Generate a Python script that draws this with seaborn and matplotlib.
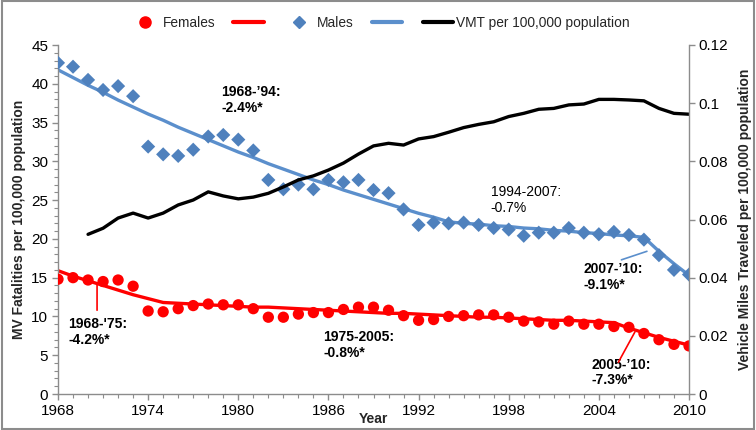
import numpy as np
import pandas as pd
import matplotlib
matplotlib.use("Agg")
import matplotlib.pyplot as plt
import seaborn as sns
from matplotlib.lines import Line2D
from matplotlib.ticker import MultipleLocator, FuncFormatter
from matplotlib.patches import Rectangle

# ---------------- data ----------------
years = list(range(1968, 2011))
females = [14.8, 15.0, 14.7, 14.5, 14.7, 13.9, 10.7, 10.6, 11.0, 11.4,
           11.6, 11.5, 11.5, 11.0, 9.9, 9.9, 10.3, 10.5, 10.5, 10.9,
           11.2, 11.2, 10.8, 10.1, 9.5, 9.6, 10.0, 10.1, 10.2, 10.2,
           9.9, 9.4, 9.3, 9.0, 9.4, 9.0, 9.0, 8.7, 8.6, 7.8,
           7.0, 6.4, 6.2]
males = [42.7, 42.2, 40.5, 39.2, 39.7, 38.4, 31.9, 30.9, 30.7, 31.5,
         33.2, 33.4, 32.8, 31.4, 27.6, 26.4, 27.0, 26.4, 27.6, 27.3,
         27.6, 26.3, 25.9, 23.8, 21.8, 22.1, 22.0, 22.1, 21.8, 21.4,
         21.2, 20.4, 20.8, 20.8, 21.4, 20.8, 20.6, 20.9, 20.5, 19.9,
         17.9, 16.0, 15.4]
female_trend = [15.9, 15.2, 14.6, 14.0, 13.4, 12.8, 12.3, 11.8, 11.7, 11.6,
                11.5, 11.4, 11.3, 11.2, 11.2, 11.1, 11.0, 10.9, 10.8, 10.7,
                10.6, 10.5, 10.4, 10.4, 10.3, 10.2, 10.1, 10.0, 9.9, 9.9,
                9.8, 9.7, 9.6, 9.5, 9.5, 9.4, 9.3, 9.2, 8.5, 7.9,
                7.3, 6.8, 6.3]
male_trend = [41.8, 40.8, 39.8, 38.9, 37.9, 37.0, 36.1, 35.3, 34.4, 33.6,
              32.8, 32.0, 31.2, 30.5, 29.7, 29.0, 28.3, 27.6, 27.0, 26.3,
              25.7, 25.1, 24.5, 23.9, 23.3, 22.8, 22.2, 22.0, 21.9, 21.7,
              21.6, 21.4, 21.3, 21.1, 21.0, 20.8, 20.7, 20.5, 20.4, 20.2,
              18.4, 16.8, 15.3]
vmt_years = list(range(1970, 2011))
vmt = [0.0549, 0.0570, 0.0605, 0.0622, 0.0605, 0.0622, 0.0650, 0.0667, 0.0695, 0.0681,
       0.0671, 0.0677, 0.0690, 0.0712, 0.0736, 0.0750, 0.0770, 0.0794, 0.0825, 0.0853,
       0.0862, 0.0856, 0.0877, 0.0885, 0.0900, 0.0916, 0.0927, 0.0936, 0.0954, 0.0965,
       0.0979, 0.0982, 0.0994, 0.0997, 0.1013, 0.1013, 0.1011, 0.1008, 0.0982, 0.0965,
       0.0962]
x_ticks = [1968, 1974, 1980, 1986, 1992, 1998, 2004, 2010]

df = pd.DataFrame({"year": years, "females": females, "males": males,
                   "ftrend": female_trend, "mtrend": male_trend})
dv = pd.DataFrame({"year": vmt_years, "vmt": vmt})

# ---------------- style ----------------
sns.set_theme(style="white")
plt.rcParams["font.family"] = ["Liberation Sans", "DejaVu Sans"]
plt.rcParams["axes.edgecolor"] = "#8c8c8c"

RED = "#ff0000"
BLUE = "#4f81bd"
BLUE_LINE = "#5b8fcc"
GRAY = "#8c8c8c"

fig = plt.figure(figsize=(7.56, 4.30), dpi=100)
ax = fig.add_axes([58 / 756, 1 - 394 / 430, (689 - 58) / 756, (394 - 45) / 430])
ax2 = ax.twinx()

# points
sns.scatterplot(data=df, x="year", y="males", ax=ax, marker="D", s=52,
                color=BLUE, edgecolor="none", linewidth=0, zorder=3, legend=False)
sns.scatterplot(data=df, x="year", y="females", ax=ax, marker="o", s=66,
                color=RED, edgecolor="none", linewidth=0, zorder=3, legend=False)
# trend lines
sns.lineplot(data=df, x="year", y="mtrend", ax=ax, color=BLUE_LINE, linewidth=2.4,
             zorder=2, legend=False)
sns.lineplot(data=df, x="year", y="ftrend", ax=ax, color=RED, linewidth=2.4,
             zorder=2, legend=False)
# VMT
sns.lineplot(data=dv, x="year", y="vmt", ax=ax2, color="black", linewidth=2.4,
             legend=False)

# axes
ax.set_xlim(1968, 2010)
ax.set_ylim(0, 45)
ax2.set_ylim(0, 0.12)
ax.set_xticks(x_ticks)
ax.xaxis.set_minor_locator(MultipleLocator(1))
ax.yaxis.set_major_locator(MultipleLocator(5))
ax.yaxis.set_minor_locator(MultipleLocator(1))
ax2.yaxis.set_major_locator(MultipleLocator(0.02))
ax2.yaxis.set_major_formatter(FuncFormatter(lambda v, p: f"{v:g}"))

for a in (ax, ax2):
    a.spines["top"].set_visible(False)
    for s in a.spines.values():
        s.set_color(GRAY)
        s.set_linewidth(1.0)
ax.spines["right"].set_visible(False)
ax2.spines["left"].set_visible(False)
ax2.spines["bottom"].set_visible(False)

ax.tick_params(axis="both", which="major", direction="out", length=4, width=1,
               color=GRAY, labelsize=11, pad=3, labelcolor="black")
ax.tick_params(axis="both", which="minor", direction="out", length=3, width=0.8,
               color=GRAY)
ax.tick_params(axis="x", which="both", bottom=True, top=False)
ax.tick_params(axis="y", which="both", left=True, right=False)
ax2.tick_params(axis="y", which="major", direction="out", length=4, width=1,
                color=GRAY, labelsize=11, pad=3, right=True, labelcolor="black")

ax.set_xlabel("Year", fontsize=10, fontweight="bold")
ax.xaxis.set_label_coords(0.50, -0.053)
ax.set_ylabel("MV Fatalities per 100,000 population", fontsize=10, fontweight="bold",
              labelpad=4)
ax2.set_ylabel("Vehicle Miles Traveled per 100,000 population", fontsize=10,
               fontweight="bold", labelpad=7, rotation=90)

ax.grid(False)
ax2.grid(False)

# annotations
bold = dict(fontsize=10, fontweight="bold", color="black", va="top", ha="left",
            linespacing=1.15)
ax.text(1978.85, 39.8, "1968-\u201994:\n-2.4%*", **bold)
ax.text(1968.7, 9.9, "1968-'75:\n-4.2%*", **bold)
ax.text(1985.64, 8.2, "1975-2005:\n-0.8%*", **bold)
ax.text(1996.8, 26.9, "1994-2007:\n-0.7%", fontsize=10, color="black",
        va="top", ha="left", linespacing=1.15)
ax.text(2002.95, 17.0, "2007-\u201910:\n-9.1%*", **bold)
ax.text(2003.5, 4.7, "2005-\u201910:\n-7.3%*", **bold)

# leader lines
lead = dict(arrowstyle="-", lw=1.2, shrinkA=0, shrinkB=0)
ax.annotate("", xy=(1970.6, 14.05), xytext=(1970.6, 10.8),
            arrowprops=dict(color=RED, **lead))
ax.annotate("", xy=(2007.2, 18.4), xytext=(2005.5, 17.3),
            arrowprops=dict(color=BLUE_LINE, **lead))
ax.annotate("", xy=(2006.4, 8.0), xytext=(2005.3, 4.1),
            arrowprops=dict(color=RED, **lead))

# legend
handles = [
    Line2D([], [], marker="o", linestyle="none", color=RED, markersize=8),
    Line2D([], [], color=RED, linewidth=3),
    Line2D([], [], marker="D", linestyle="none", color=BLUE, markersize=6.5),
    Line2D([], [], color=BLUE_LINE, linewidth=3),
    Line2D([], [], color="black", linewidth=3),
]
labels = ["Females", "", "Males", "", "VMT per 100,000 population"]
fig.legend(handles, labels, ncol=5, loc="center", bbox_to_anchor=(0.502, 0.947),
           frameon=False, fontsize=9.9, handlelength=2.2, handletextpad=0.2,
           columnspacing=1.3)

# outer chart border
fig.patches.append(Rectangle((0.002, 0.003), 0.996, 0.994, transform=fig.transFigure,
                             fill=False, edgecolor=GRAY, linewidth=1.5))

fig.savefig("out.png", dpi=100)
